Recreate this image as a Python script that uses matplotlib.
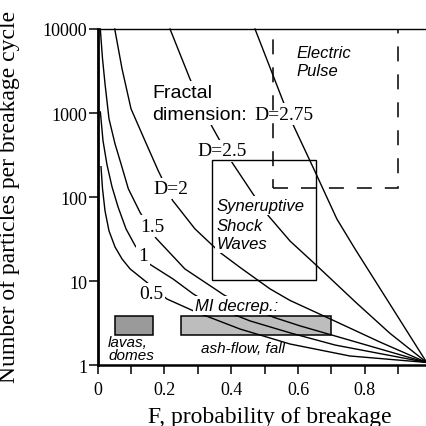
import matplotlib
matplotlib.use('Agg')
import matplotlib.pyplot as plt
from matplotlib.patches import Rectangle

plt.rcParams['font.family'] = ['Liberation Serif', 'DejaVu Serif']

# curves of constant fractal dimension
f_05 = [0.0099, 0.0144, 0.0219, 0.0338, 0.0518, 0.0728, 0.097, 0.147, 0.207, 0.296, 0.426, 0.576, 0.755, 0.985]
n_05 = [230, 126, 68.7, 39.7, 25.6, 18.4, 14.0, 9.7, 6.15, 4.27, 2.70, 1.79, 1.29, 1.08]

f_10 = [0.008, 0.0159, 0.0278, 0.0428, 0.0608, 0.0847, 0.112, 0.154, 0.226, 0.286, 0.351, 0.456, 0.576, 0.711, 0.985]
n_10 = [1030, 468, 243, 133, 76.7, 42, 26.5, 16.1, 10.6, 7.06, 4.94, 3.37, 2.43, 1.74, 1.08]

f_15 = [0.0078, 0.0144, 0.0219, 0.0338, 0.0518, 0.0698, 0.0916, 0.1266, 0.1746, 0.261, 0.381, 0.526, 0.606, 0.701, 0.985]
n_15 = [10000, 4430, 2230, 855, 431, 249, 126, 66, 32.5, 14.0, 6.74, 3.73, 2.94, 2.29, 1.08]

f_20 = [0.051, 0.0728, 0.0997, 0.1416, 0.181, 0.2246, 0.291, 0.366, 0.426, 0.516, 0.576, 0.696, 0.845, 0.985]
n_20 = [10000, 3370, 1125, 468, 207, 91, 42, 22, 14.6, 8.1, 5.9, 3.56, 1.89, 1.08]

f_25 = [0.2165, 0.276, 0.341, 0.401, 0.465, 0.511, 0.576, 0.656, 0.775, 0.875, 0.985]
n_25 = [10000, 2560, 706, 263, 109, 60, 30, 15.3, 5.5, 2.4, 1.08]

f_275 = [0.471, 0.556, 0.586, 0.651, 0.716, 0.771, 0.878, 0.985]
n_275 = [10000, 1352, 712, 200, 55, 24, 5.1, 1.08]

# fields: (F from, F to, N from, N to)
lavas = (0.052, 0.165, 2.30, 3.89)
ashflow = (0.249, 0.698, 2.30, 3.89)
shock = (0.341, 0.653, 10.4, 273)
pulse = (0.526, 0.900, 128, 10000)

yticks = [1, 10, 100, 1000, 10000]
ytick_labels = ['1', '10', '100', '1000', '10000']

fig = plt.figure(figsize=(4.27, 4.27), dpi=100)
ax = fig.add_axes([0.2288, 0.1422, 0.7822, 0.7876])
ax.set_yscale('log')
ax.set_xlim(0, 1)
ax.set_ylim(1, 10000)

for f, n in [(f_05, n_05), (f_10, n_10), (f_15, n_15), (f_20, n_20), (f_25, n_25), (f_275, n_275)]:
    ax.plot(f, n, color='black', lw=1.0, zorder=2, clip_on=False)

def box(r, **kw):
    return Rectangle((r[0], r[2]), r[1] - r[0], r[3] - r[2], **kw)

ax.add_patch(box(lavas, fc='#9a9a9a', ec='black', lw=1.1, zorder=1))
ax.add_patch(box(ashflow, fc='#bdbdbd', ec='black', lw=1.1, zorder=1))
ax.add_patch(box(shock, fc='none', ec='black', lw=1.0, zorder=4))
ax.add_patch(box(pulse, fc='none', ec='black', lw=1.1, ls=(0, (9.8, 8.5)), zorder=4))

white = dict(boxstyle='square,pad=0.12', fc='white', ec='none')
sans = dict(family=['Liberation Sans', 'DejaVu Sans'])

ax.text(0.1626, 1563, 'Fractal', fontsize=14, va='baseline', bbox=white, zorder=3, **sans)
ax.text(0.1626, 860, 'dimension:', fontsize=14, va='baseline', bbox=white, zorder=3, **sans)
ax.text(0.468, 860, 'D=2.75', fontsize=14, va='baseline', bbox=white, zorder=3)
ax.text(0.297, 313, 'D=2.5', fontsize=14, va='baseline', bbox=white, zorder=3)
ax.text(0.1656, 112, 'D=2', fontsize=14, va='baseline', bbox=white, zorder=3)
ax.text(0.1266, 40, '1.5', fontsize=14, va='baseline', bbox=white, zorder=3)
ax.text(0.1207, 17.9, '1', fontsize=14, va='baseline', bbox=white, zorder=3)
ax.text(0.1237, 6.28, '0.5', fontsize=14, va='baseline', bbox=white, zorder=3)
ax.text(0.291, 4.55, 'MI decrep.:', fontsize=12, style='italic', va='baseline', bbox=white, zorder=3, **sans)

ax.text(0.594, 4640, 'Electric', fontsize=12, style='italic', va='baseline', **sans)
ax.text(0.594, 2800, 'Pulse', fontsize=12, style='italic', va='baseline', **sans)
ax.text(0.356, 71.2, 'Syneruptive', fontsize=12, style='italic', va='baseline', bbox=white, zorder=3, **sans)
ax.text(0.356, 41.1, 'Shock', fontsize=12, style='italic', va='baseline', bbox=white, zorder=3, **sans)
ax.text(0.356, 24.7, 'Waves', fontsize=12, style='italic', va='baseline', bbox=white, zorder=3, **sans)
ax.text(0.031, 1.68, 'lavas,', fontsize=11, style='italic', va='baseline', **sans)
ax.text(0.031, 1.18, 'domes', fontsize=11, style='italic', va='baseline', **sans)
ax.text(0.309, 1.452, 'ash-flow, fall', fontsize=11, style='italic', va='baseline', **sans)

ax.set_yticks(yticks, labels=ytick_labels)
ax.yaxis.set_minor_locator(matplotlib.ticker.NullLocator())
ax.set_xticks([0, 0.2, 0.4, 0.6, 0.8], labels=['0', '0.2', '0.4', '0.6', '0.8'])
ax.set_xticks([0.1, 0.3, 0.5, 0.7, 0.9], minor=True)
ax.tick_params(which='both', direction='out', length=6.5, width=1.1, labelsize=13)
ax.tick_params(axis='y', pad=1)
ax.tick_params(axis='x', pad=5)

ax.spines['right'].set_visible(False)
ax.spines['left'].set_linewidth(2.0)
ax.spines['bottom'].set_linewidth(1.8)
ax.spines['top'].set_linewidth(1.0)

ax.set_xlabel('F, probability of breakage', fontsize=17)
ax.xaxis.label.set_va('baseline')
ax.xaxis.set_label_coords(0.515, -0.1686)
ax.set_ylabel('Number of particles per breakage cycle', fontsize=17)
ax.yaxis.set_label_coords(-0.234, 0.505)

fig.savefig('out.png', dpi=100)
